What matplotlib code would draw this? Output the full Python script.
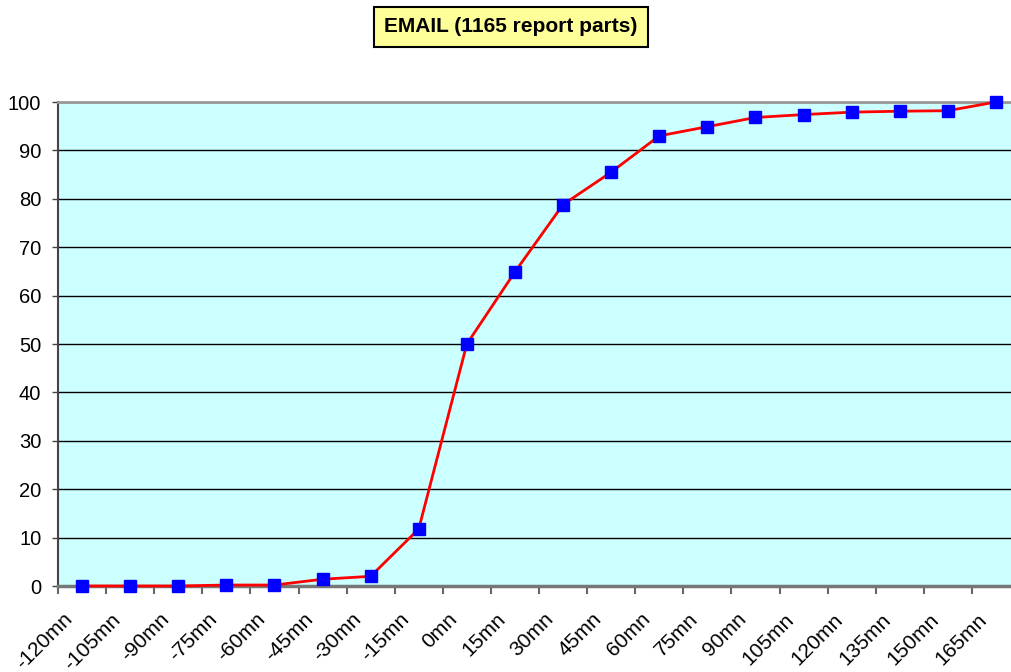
import numpy as np
import matplotlib
matplotlib.use("Agg")
import matplotlib.pyplot as plt
from matplotlib.transforms import ScaledTranslation

plt.rcParams['font.family'] = ['Liberation Sans', 'DejaVu Sans']

# data
labels = ['-120mn', '-105mn', '-90mn', '-75mn', '-60mn', '-45mn', '-30mn', '-15mn',
          '0mn', '15mn', '30mn', '45mn', '60mn', '75mn', '90mn', '105mn',
          '120mn', '135mn', '150mn', '165mn']
values = [0, 0, 0, 0.2, 0.2, 1.4, 2.0, 11.8, 50.0, 64.9, 78.8, 85.5, 93.0,
          94.9, 96.8, 97.4, 97.9, 98.1, 98.2, 100.0]

W, H = 1011, 672
fig = plt.figure(figsize=(W / 100, H / 100), dpi=100)
# plot area runs a little past the right edge, as in the reference
ax = fig.add_axes([58 / W, (H - 586) / H, 962 / W, 484 / H])
ax.set_facecolor('#CCFFFF')

x = np.arange(len(labels))
ax.plot(x, values, color='#FF0000', lw=2, marker='s', markersize=8.5,
        markerfacecolor='#0000FF', markeredgecolor='#0000FF', zorder=3, clip_on=False)

ax.set_xlim(-0.5, len(labels) - 0.5)
ax.set_ylim(0, 100)

ax.set_yticks(range(0, 101, 10))
ax.yaxis.grid(True, color='black', lw=1)
ax.set_axisbelow(True)
ax.tick_params(axis='y', length=4.5, width=1, color='#444444', labelsize=14.5, pad=7.5)

ax.set_xticks(x)
ax.set_xticklabels(labels, rotation=45, ha='right', va='top', rotation_mode='anchor', fontsize=15)
ax.set_xticks(np.arange(-0.5, len(labels)), minor=True)
ax.tick_params(axis='x', which='major', length=0, pad=17)
ax.tick_params(axis='x', which='minor', length=6, width=1.5, color='#666666')
shift = ScaledTranslation(-19 / 100, 0, fig.dpi_scale_trans)
for t in ax.get_xticklabels():
    t.set_transform(t.get_transform() + shift)

for s in ['top', 'right']:
    ax.spines[s].set_color('#999999')
    ax.spines[s].set_linewidth(2)
ax.spines['bottom'].set_color('#777777')
ax.spines['bottom'].set_linewidth(2.5)
ax.spines['left'].set_color('#444444')
ax.spines['left'].set_linewidth(1.5)

fig.text(511 / W, 1 - 27 / H, 'EMAIL (1165 report parts)', ha='center', va='center',
         fontsize=15, fontweight='bold',
         bbox=dict(boxstyle='square,pad=0.5', facecolor='#FFFF99', edgecolor='black', lw=1.5))

fig.savefig('out.png', dpi=100)
